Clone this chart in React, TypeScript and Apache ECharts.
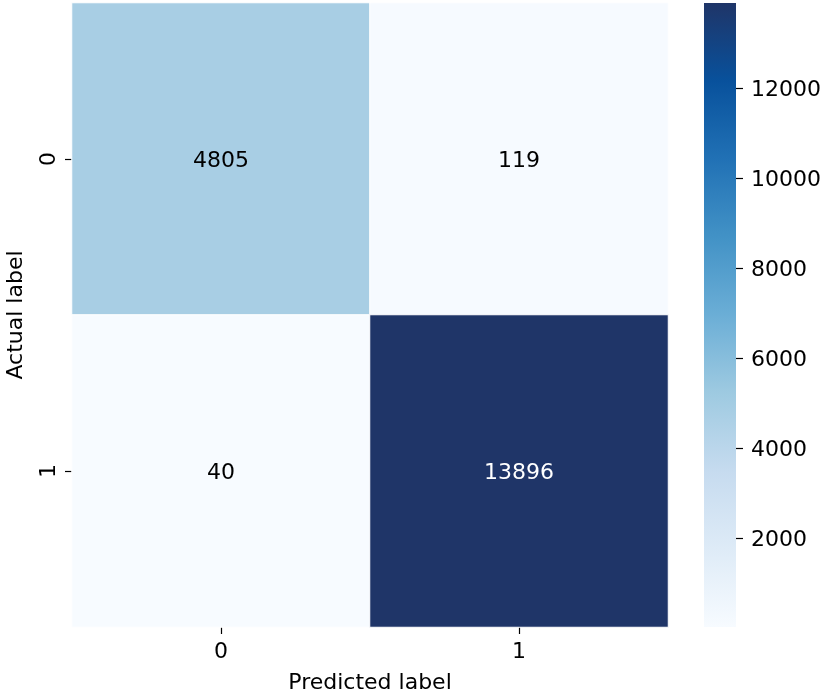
import React, { useEffect, useRef } from "react";
import * as echarts from "echarts";

const predictedLabels = ["0", "1"];
const actualLabels = ["0", "1"];
// [predictedIndex, actualIndex, count]
const cellValues: [number, number, number][] = [
  [0, 0, 4805],
  [1, 0, 119],
  [0, 1, 40],
  [1, 1, 13896],
];
const colorbarTicks = [2000, 4000, 6000, 8000, 10000, 12000];
const blues = ["#f7fbff", "#deebf7", "#c6dbef", "#9ecae1", "#6baed6", "#4292c6", "#2171b5", "#08519c", "#1f3568"];

const FONT = "DejaVu Sans";
const FS = 22;

export default function App() {
  const ref = useRef<HTMLDivElement>(null);
  useEffect(() => {
    const chart = echarts.init(ref.current!, null, { renderer: "svg" });
    const vals = cellValues.map((c) => c[2]);
    const vmin = Math.min(...vals);
    const vmax = Math.max(...vals);
    chart.setOption({
      animation: false,
      textStyle: { fontFamily: FONT },
      grid: [
        { left: 72, right: 156, top: 3, bottom: 68, outerBoundsMode: "none", containLabel: false },
        { left: 704, width: 32, top: 3, bottom: 68, outerBoundsMode: "none", containLabel: false },
      ],
      xAxis: [
        {
          gridIndex: 0,
          type: "category",
          data: predictedLabels,
          name: "Predicted label",
          nameLocation: "middle",
          nameGap: 43,
          nameTextStyle: { fontSize: FS, color: "#000", fontFamily: FONT },
          axisLine: { show: false },
          axisTick: { show: true, alignWithLabel: true, length: 7, lineStyle: { color: "#000", width: 1.2 } },
          axisLabel: { fontSize: FS, color: "#000", margin: 12, fontFamily: FONT },
          splitArea: { show: false },
        },
        {
          gridIndex: 1,
          type: "category",
          data: ["cb"],
          show: false,
        },
      ],
      yAxis: [
        {
          gridIndex: 0,
          type: "category",
          data: actualLabels,
          inverse: true,
          name: "Actual label",
          nameLocation: "middle",
          nameGap: 47,
          nameRotate: 90,
          nameTextStyle: { fontSize: FS, color: "#000", fontFamily: FONT },
          axisLine: { show: false },
          axisTick: { show: true, alignWithLabel: true, length: 7, lineStyle: { color: "#000", width: 1.2 } },
          axisLabel: { fontSize: FS, color: "#000", rotate: 90, margin: 14, fontFamily: FONT },
        },
        {
          gridIndex: 1,
          type: "value",
          min: vmin,
          max: vmax,
          position: "right",
          splitLine: { show: false },
          axisLine: { show: false },
          axisTick: { show: true, length: 7, lineStyle: { color: "#000", width: 1.2 }, customValues: colorbarTicks },
          axisLabel: {
            fontSize: FS,
            color: "#000",
            margin: 15,
            fontFamily: FONT,
            customValues: colorbarTicks,
            formatter: (v: number) => String(v),
          },
        },
      ],
      visualMap: {
        show: false,
        seriesIndex: 0,
        min: vmin,
        max: vmax,
        inRange: { color: blues },
      },
      series: [
        {
          type: "heatmap",
          xAxisIndex: 0,
          yAxisIndex: 0,
          data: cellValues.map((c) => ({
            value: c,
            label: { color: (c[2] - vmin) / (vmax - vmin) > 0.5 ? "#fff" : "#000" },
          })),
          itemStyle: { borderColor: "#fff", borderWidth: 1 },
          label: {
            show: true,
            fontSize: FS,
            fontFamily: FONT,
            formatter: (p: any) => String(p.value[2]),
          },
          emphasis: { disabled: true },
        },
        {
          type: "bar",
          xAxisIndex: 1,
          yAxisIndex: 1,
          data: [vmax],
          barWidth: "100%",
          silent: true,
          itemStyle: {
            color: {
              type: "linear",
              x: 0,
              y: 1,
              x2: 0,
              y2: 0,
              colorStops: blues.map((c, i) => ({ offset: i / (blues.length - 1), color: c })),
            },
          },
        },
      ],
    });
    return () => chart.dispose();
  }, []);
  return <div ref={ref} style={{ position: "fixed", left: 0, top: 0, width: 824, height: 695 }} />;
}
